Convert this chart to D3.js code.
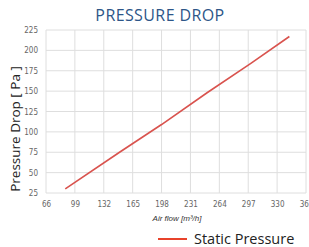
<!DOCTYPE html>
<html>
<head>
<meta charset="utf-8">
<script src="https://cdn.jsdelivr.net/npm/d3@7"></script>
<style>
  body { margin: 0; background: #fff; }
  svg { display: block; }
</style>
</head>
<body>
<div id="vis"></div>
<script>
// chart data
const airFlow = [88, 150, 198, 250, 300, 344]
const staticPressure = [30, 75, 109, 148, 184, 217]
const xTicks = [66, 99, 132, 165, 198, 231, 264, 297, 330, 363]
const yTicks = [25, 50, 75, 100, 125, 150, 175, 200, 225]

const W = 309, H = 247
const margin = { top: 30, right: 3, bottom: 54, left: 46 }
const width = W - margin.left - margin.right
const height = H - margin.top - margin.bottom

const svg = d3.select('#vis')
    .append('svg')
    .attr('width', W)
    .attr('height', H)

const g = svg.append('g')
    .attr('transform', `translate(${margin.left},${margin.top})`)

const xScale = d3.scaleLinear().domain([66, 363]).range([0, width])
const yScale = d3.scaleLinear().domain([25, 225]).range([height, 0])

// grid
g.append('g')
    .selectAll('line')
    .data(xTicks)
    .join('line')
    .attr('x1', d => xScale(d)).attr('x2', d => xScale(d))
    .attr('y1', 0).attr('y2', height)
    .style('stroke', '#dedede')
g.append('g')
    .selectAll('line')
    .data(yTicks)
    .join('line')
    .attr('x1', 0).attr('x2', width)
    .attr('y1', d => yScale(d)).attr('y2', d => yScale(d))
    .style('stroke', '#dedede')

// axes (labels only)
const xAxis = g.append('g')
    .attr('transform', `translate(0,${height})`)
    .call(d3.axisBottom(xScale).tickValues(xTicks).tickSize(0).tickPadding(8))
const yAxis = g.append('g')
    .call(d3.axisLeft(yScale).tickValues(yTicks).tickSize(0).tickPadding(8))
xAxis.select('.domain').remove()
yAxis.select('.domain').remove()
g.selectAll('.tick text')
    .style('font-family', '"Liberation Sans Narrow", "DejaVu Sans Condensed", sans-serif')
    .style('font-size', '8px')
    .style('fill', '#666')

// line
const pts = airFlow.map((d, i) => [d, staticPressure[i]])
g.append('path')
    .datum(pts)
    .attr('d', d3.line().x(d => xScale(d[0])).y(d => yScale(d[1])))
    .style('fill', 'none')
    .style('stroke', '#d9534e')
    .style('stroke-width', 1.6)

// title
svg.append('text')
    .attr('x', 160).attr('y', 21)
    .attr('text-anchor', 'middle')
    .style('font-family', '"Open Sans", sans-serif')
    .style('font-size', '16px')
    .style('letter-spacing', '0.4px')
    .style('fill', '#2d5688')
    .text('PRESSURE DROP')

// y label
svg.append('text')
    .attr('transform', 'rotate(-90)')
    .attr('x', -129).attr('y', 20)
    .attr('text-anchor', 'middle')
    .style('font-family', '"Open Sans", sans-serif')
    .style('font-size', '13.5px')
    .style('fill', '#222')
    .text('Pressure Drop [ Pa ]')

// x label
svg.append('text')
    .attr('x', 177).attr('y', 221)
    .attr('text-anchor', 'middle')
    .style('font-family', '"Liberation Sans Narrow", sans-serif')
    .style('font-style', 'italic')
    .style('font-size', '8px')
    .style('fill', '#333')
    .text('Air flow [m³/h]')

// legend
svg.append('line')
    .attr('x1', 158).attr('x2', 187)
    .attr('y1', 239).attr('y2', 239)
    .style('stroke', '#e8432b')
    .style('stroke-width', 2)
svg.append('text')
    .attr('x', 194).attr('y', 244)
    .style('font-family', '"Open Sans", sans-serif')
    .style('font-size', '14.5px')
    .style('fill', '#222')
    .text('Static Pressure')
</script>
</body>
</html>
